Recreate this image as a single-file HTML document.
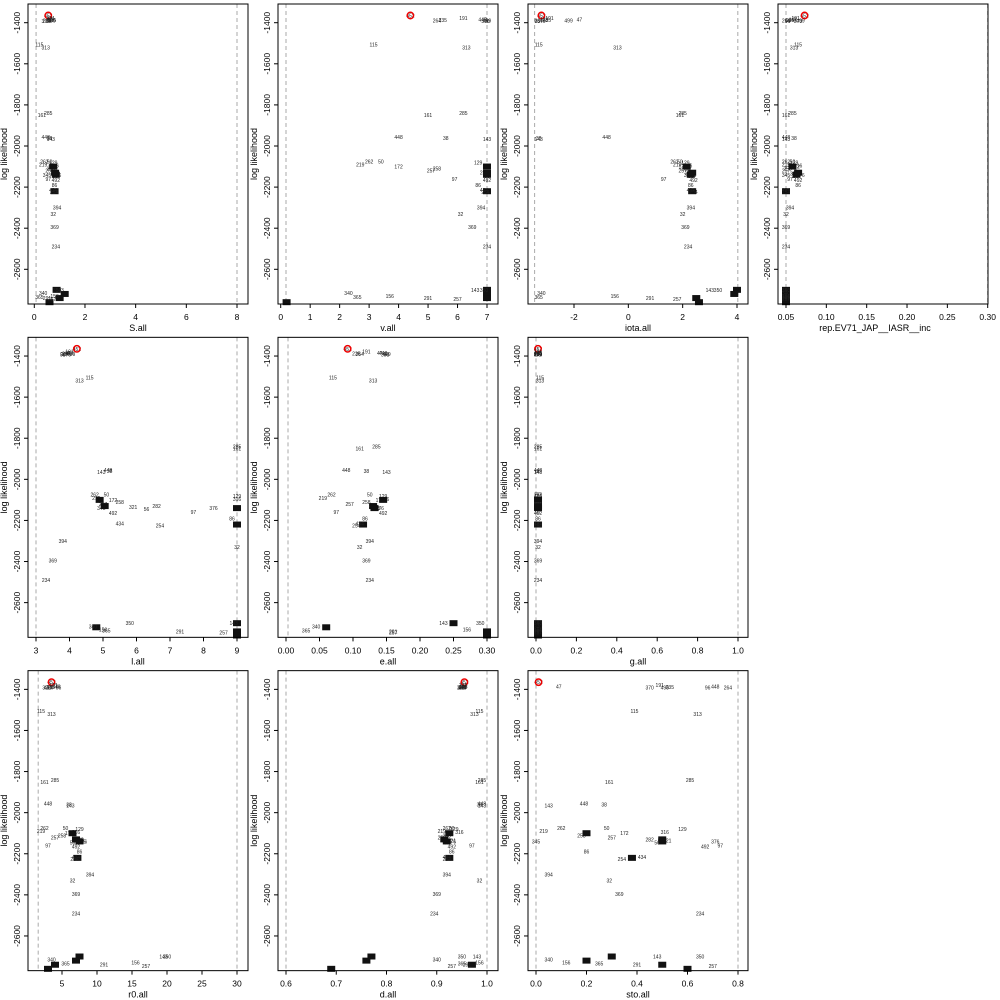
<!DOCTYPE html>
<html><head><meta charset="utf-8"><style>
html,body{margin:0;padding:0;background:#fff;}
svg{display:block;font-family:"Liberation Sans",Arial,sans-serif;}
</style></head><body>
<svg id="chart" width="1000" height="1000" viewBox="0 0 1000 1000" xmlns="http://www.w3.org/2000/svg"></svg>
<script>
const pointLabels=["452","47","191","264","235","448","96","370","499","115","313","161","285","448","38","143","262","219","50","172","129","316","321","282","56","376","257","258","492","97","345","","","","86","","434","254","394","32","369","234","","","","","340","365","291","257","143","350","156"];
const logLik=[-1365,-1385,-1378,-1390,-1388,-1385,-1392,-1392,-1390,-1505,-1520,-1850,-1840,-1955,-1960,-1965,-2075,-2090,-2075,-2100,-2080,-2095,-2135,-2130,-2145,-2140,-2120,-2110,-2165,-2160,-2140,-2140,-2100,-2130,-2190,-2220,-2215,-2225,-2300,-2330,-2395,-2490,-2700,-2720,-2740,-2760,-2715,-2735,-2740,-2745,-2700,-2700,-2730];
const isBlob=[0,0,0,0,0,0,0,0,0,0,0,0,0,0,0,0,0,0,0,0,0,0,0,0,0,0,0,0,0,0,0,1,1,1,0,1,0,0,0,0,0,0,1,1,1,1,0,0,0,0,0,0,0];
const sAll=[0.55,0.6,0.65,0.5,0.7,0.62,0.55,0.45,0.68,0.2,0.45,0.3,0.55,0.45,0.6,0.65,0.4,0.35,0.6,0.7,0.75,0.8,0.85,0.8,0.82,0.9,0.6,0.65,0.85,0.55,0.5,0.85,0.75,0.82,0.8,0.8,0.75,0.78,0.9,0.75,0.8,0.85,0.88,1.2,1.0,0.6,0.35,0.2,0.5,0.7,1.0,0.9,0.8];
const vAll=[4.4,6.9,6.2,5.3,5.5,6.85,7.0,6.95,7.0,3.15,6.3,5.0,6.2,4.0,5.6,7.0,3.0,2.7,3.4,4.0,6.7,7.0,7.0,6.9,7.0,7.0,5.1,5.3,7.0,5.9,7.0,7.0,7.0,7.0,6.7,7.0,6.9,6.95,6.8,6.1,6.5,7.0,7.0,7.0,7.0,0.2,2.3,2.6,5.0,6.0,6.6,6.9,3.7];
const iotaAll=[-3.2,-1.8,-2.9,-3.3,-3.0,-3.1,-3.35,-3.2,-2.2,-3.3,-0.4,1.9,2.0,-0.8,-3.3,-3.3,1.7,1.8,1.9,2.0,2.1,2.2,2.3,2.25,2.3,2.35,2.0,2.1,2.4,1.3,2.2,2.3,2.15,2.35,2.3,2.35,2.3,2.4,2.3,2.0,2.1,2.2,4.0,3.9,2.5,2.6,-3.2,-3.3,0.8,1.8,3.0,3.3,-0.5];
const repAll=[0.073,0.06,0.062,0.05,0.055,0.058,0.052,0.065,0.068,0.065,0.06,0.05,0.058,0.05,0.06,0.05,0.05,0.05,0.058,0.062,0.06,0.065,0.06,0.065,0.062,0.068,0.05,0.052,0.065,0.055,0.05,0.063,0.058,0.065,0.065,0.05,0.05,0.05,0.055,0.05,0.05,0.05,0.05,0.05,0.05,0.05,0.05,0.05,0.05,0.05,0.05,0.05,0.05];
const lAll=[4.22,3.95,4.0,3.85,3.9,4.0,3.8,3.92,4.05,4.6,4.3,9.0,9.0,5.15,5.2,4.95,4.75,4.8,5.1,5.3,9.0,9.0,5.9,6.6,6.3,8.3,5.0,5.5,5.3,7.7,4.95,9.0,4.9,5.05,8.85,9.0,5.5,6.7,3.8,9.0,3.5,3.3,9.0,4.8,9.0,9.0,4.7,5.1,7.3,8.6,8.9,5.8,5.0];
const eAll=[0.092,0.14,0.12,0.11,0.105,0.145,0.15,0.148,0.15,0.07,0.13,0.11,0.135,0.09,0.12,0.15,0.068,0.055,0.125,0.14,0.145,0.148,0.13,0.13,0.135,0.14,0.095,0.12,0.145,0.075,0.135,0.132,0.145,0.13,0.118,0.115,0.11,0.105,0.125,0.11,0.12,0.125,0.25,0.06,0.3,0.3,0.045,0.03,0.16,0.16,0.235,0.29,0.27];
const gAll=[0.01,0.01,0.01,0.01,0.01,0.01,0.01,0.01,0.01,0.02,0.02,0.01,0.01,0.01,0.01,0.01,0.01,0.01,0.01,0.01,0.01,0.01,0.01,0.01,0.01,0.01,0.01,0.01,0.01,0.01,0.01,0.01,0.01,0.01,0.01,0.01,0.01,0.01,0.01,0.01,0.01,0.01,0.01,0.01,0.01,0.01,0.01,0.01,0.01,0.01,0.01,0.01,0.01];
const r0All=[3.5,4.0,3.8,3.2,3.4,4.2,4.5,2.8,3.0,2.0,3.5,2.5,4.0,3.0,6.0,6.2,2.5,2.0,5.5,6.0,7.5,7.0,7.2,7.5,6.5,8.0,4.0,5.0,7.0,3.0,7.8,7.5,6.5,7.0,7.5,7.2,7.0,6.8,9.0,6.5,7.0,7.0,7.5,7.0,4.0,3.0,3.5,5.5,11,17,19.5,20,15.5];
const dAll=[0.955,0.955,0.952,0.95,0.952,0.953,0.95,0.948,0.951,0.985,0.975,0.985,0.99,0.99,0.985,0.99,0.92,0.91,0.93,0.925,0.935,0.945,0.93,0.915,0.92,0.93,0.91,0.92,0.93,0.97,0.92,0.92,0.925,0.915,0.93,0.925,0.92,0.92,0.92,0.985,0.9,0.895,0.77,0.76,0.97,0.69,0.9,0.95,0.96,0.93,0.98,0.95,0.985];
const stoAll=[0.01,0.09,0.49,0.76,0.53,0.71,0.68,0.45,0.51,0.39,0.64,0.29,0.61,0.19,0.27,0.05,0.10,0.03,0.28,0.35,0.58,0.51,0.52,0.45,0.48,0.71,0.30,0.18,0.67,0.73,0.0,0.5,0.2,0.5,0.2,0.38,0.42,0.34,0.05,0.29,0.33,0.65,0.3,0.2,0.5,0.6,0.05,0.25,0.4,0.7,0.48,0.65,0.12];
const yTicks=[-1400,-1600,-1800,-2000,-2200,-2400,-2600];

const panels=[
 {name:"S.all",vals:sAll,row:0,bl:28,br:248,t0:0,p0:34.3,t1:8,p1:237,ticks:["0","2","4","6","8"],dash:[0.07,8]},
 {name:"v.all",vals:vAll,row:0,bl:278,br:498,t0:0,p0:280.7,t1:7,p1:487,ticks:["0","1","2","3","4","5","6","7"],dash:[0.18,7]},
 {name:"iota.all",vals:iotaAll,row:0,bl:528,br:748,t0:-2,p0:574,t1:4,p1:737,ticks:["-2","0","2","4"],dash:[-3.45,4.03]},
 {name:"rep.EV71_JAP__IASR__inc",vals:repAll,row:0,bl:778,br:988,t0:0.05,p0:786,t1:0.30,p1:987.7,ticks:["0.05","0.10","0.15","0.20","0.25","0.30"],dash:[0.05,0.30]},
 {name:"l.all",vals:lAll,row:1,bl:28,br:248,t0:3,p0:36,t1:9,p1:237,ticks:["3","4","5","6","7","8","9"],dash:[3,9]},
 {name:"e.all",vals:eAll,row:1,bl:278,br:498,t0:0,p0:286,t1:0.30,p1:487,ticks:["0.00","0.05","0.10","0.15","0.20","0.25","0.30"],dash:[0.003,0.30]},
 {name:"g.all",vals:gAll,row:1,bl:528,br:748,t0:0,p0:536,t1:1,p1:738,ticks:["0.0","0.2","0.4","0.6","0.8","1.0"],dash:[0,1]},
 {name:"r0.all",vals:r0All,row:2,bl:28,br:248,t0:5,p0:62,t1:30,p1:237,ticks:["5","10","15","20","25","30"],dash:[1.6,30]},
 {name:"d.all",vals:dAll,row:2,bl:278,br:498,t0:0.6,p0:286,t1:1.0,p1:487,ticks:["0.6","0.7","0.8","0.9","1.0"],dash:[0.6,1.0]},
 {name:"sto.all",vals:stoAll,row:2,bl:528,br:748,t0:0,p0:536,t1:0.8,p1:738,ticks:["0.0","0.2","0.4","0.6","0.8"],dash:[0,0.8]}
];
const NS="http://www.w3.org/2000/svg";
const svg=document.getElementById('chart');
function mk(tag,attrs,parent){const e=document.createElementNS(NS,tag);for(const k in attrs)e.setAttribute(k,attrs[k]);(parent||svg).appendChild(e);return e;}
panels.forEach((p,pi)=>{
 const top=p.row*333.33;
 const g=mk('g',{});
 
 
 const xs=v=>p.p0+(v-p.t0)/(p.t1-p.t0)*(p.p1-p.p0);
 const ys=ll=>top+22.7+(-1400-ll)*0.2055;
 const bt=top+4,bb=top+304;
 p.dash.forEach(d=>{const l=mk('line',{x1:xs(d),x2:xs(d),y1:bt,y2:bb,stroke:'#aaa','stroke-width':1,'stroke-dasharray':'4,3'},g);
  });
 const pts=mk('g',{},g);
 p.vals.forEach((v,i)=>{
  const x=xs(v),y=ys(logLik[i]);
  if(isBlob[i]){const r=mk('rect',{x:x-4,y:y-3,width:8,height:6,fill:'#111'},pts);
   }
  else{const t=mk('text',{x:x,y:y+2,'font-size':5,'text-anchor':'middle',fill:'#222'},pts);t.textContent=pointLabels[i];
   }
  if(i===0){const c=mk('circle',{cx:x,cy:y,r:3.2,fill:'none',stroke:'#e00','stroke-width':1.5},pts);
   }
 });
 const box=mk('rect',{x:p.bl,y:bt,width:p.br-p.bl,height:300,fill:'none',stroke:'#000','stroke-width':1},g);
 
 p.ticks.forEach(tl=>{const v=parseFloat(tl),x=xs(v);
  mk('line',{x1:x,x2:x,y1:bb,y2:bb+4,stroke:'#000'},g);
  const t=mk('text',{x:x,y:bb+16,'font-size':8.5,'text-anchor':'middle'},g);t.textContent=tl;
  });
 const xt=mk('text',{x:(p.bl+p.br)/2+(pi===3?-8:0),y:bb+27,'font-size':9,'text-anchor':'middle'},g);xt.textContent=p.name;
 
 yTicks.forEach(v=>{const y=ys(v);
  mk('line',{x1:p.bl-4,x2:p.bl,y1:y,y2:y,stroke:'#000'},g);
  const t=mk('text',{x:p.bl-8,y:y,'font-size':8.5,'text-anchor':'middle',transform:`rotate(-90 ${p.bl-8} ${y})`},g);t.textContent=v;
  });
 const yx=p.bl-21,yy=top+154;
 const yt=mk('text',{x:yx,y:yy,'font-size':9,'text-anchor':'middle',transform:`rotate(-90 ${yx} ${yy})`},g);yt.textContent='log likelihood';
 
});
</script>
</body></html>
